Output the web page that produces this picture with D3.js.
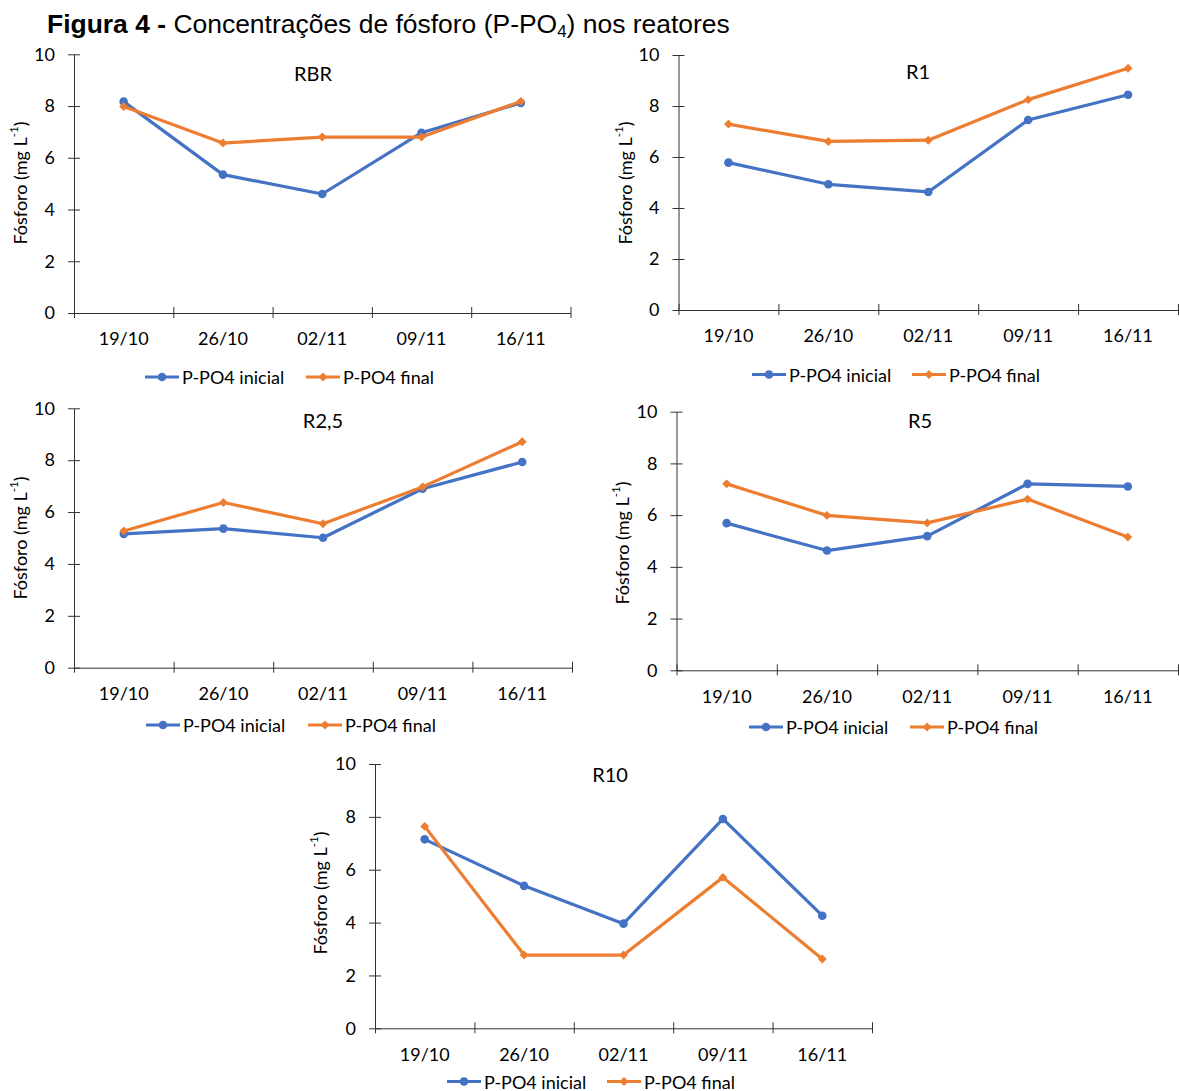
<!DOCTYPE html>
<html><head><meta charset="utf-8">
<script src="https://cdn.jsdelivr.net/npm/d3@7"></script>
<style>body{margin:0;background:#fff} svg{display:block}</style>
</head><body>
<svg id="c" width="1179" height="1091"></svg>
<script>
// ---- data ----
const dates = ["19/10","26/10","02/11","09/11","16/11"];
const yTicks = [0,2,4,6,8,10];
const seriesNames = ["P-PO4 inicial","P-PO4 final"];
const reactors = ["RBR","R1","R2,5","R5","R10"];
const inicialRBR = [8.17,5.35,4.60,6.97,8.12];
const finalRBR   = [7.98,6.57,6.80,6.80,8.18];
const inicialR1  = [5.78,4.93,4.63,7.45,8.44];
const finalR1    = [7.29,6.61,6.66,8.25,9.48];
const inicialR25 = [5.16,5.36,5.01,6.90,7.93];
const finalR25   = [5.27,6.37,5.55,6.97,8.71];
const inicialR5  = [5.69,4.63,5.19,7.21,7.11];
const finalR5    = [7.21,5.99,5.70,6.62,5.15];
const inicialR10 = [7.15,5.39,3.96,7.92,4.26];
const finalR10   = [7.64,2.77,2.77,5.71,2.62];
const panelData = [[inicialRBR,finalRBR],[inicialR1,finalR1],[inicialR25,finalR25],[inicialR5,finalR5],[inicialR10,finalR10]];

// ---- layout ----
const layout = [
  {left:74, right:570.5, top:54.3, bottom:313, tx:313, ty:81, ylx:20, yly:183, ly:377, b0:145, o0:306},
  {left:678.5, right:1178, top:55, bottom:310, tx:918, ty:79, ylx:625, yly:183, ly:374.5, b0:752, o0:912},
  {left:74, right:572, top:408.3, bottom:667.7, tx:323, ty:428, ylx:20, yly:538, ly:725, b0:146, o0:308},
  {left:676.5, right:1178, top:411.7, bottom:670.3, tx:920, ty:428, ylx:622, yly:543, ly:727, b0:749, o0:910},
  {left:375, right:872, top:764, bottom:1028.3, tx:610, ty:782, ylx:320, yly:893, ly:1081.5, b0:447, o0:607}
];
const colors = ["#4472C4","#ED7D31"];
const FONT = "Lato, 'Open Sans', sans-serif";
const AX = "#333";
const FS = "18px";

const svg = d3.select("#c");

// main title
const title = svg.append("text").attr("x",47).attr("y",33)
  .style("font-family","'Liberation Sans', Arial, sans-serif").style("font-size","25px").attr("fill","#000");
title.append("tspan").attr("font-weight","bold").text("Figura 4 - ");
title.append("tspan").text("Concentrações de fósforo (P-PO");
title.append("tspan").attr("font-size","16px").attr("dy",4).text("4");
title.append("tspan").attr("dy",-4).text(") nos reatores");
const tw = title.node().getComputedTextLength();
const fs = 25*683/tw;
title.style("font-size", fs+"px");
title.selectAll("tspan").filter((d,i)=>i===2).attr("font-size",(fs*0.64)+"px");

const diamond = d3.symbol().type(d3.symbolSquare).size(40);

function drawPanel(name, data, L){
  const g = svg.append("g").style("font-family",FONT);
  const x = d3.scaleBand().domain(dates).range([L.left, L.right]);
  const xb = d3.scaleLinear().domain([0,dates.length]).range([L.left, L.right]);
  const y = d3.scaleLinear().domain([0,10]).range([L.bottom, L.top]);

  const ya = g.append("g").attr("transform",`translate(${L.left},0)`)
    .call(d3.axisLeft(y).tickValues(yTicks).tickSizeOuter(0).tickSizeInner(6).tickPadding(13));
  ya.select(".domain").attr("stroke",AX);
  ya.selectAll(".tick line").attr("stroke",AX).attr("x1",6).attr("x2",-6);
  ya.selectAll(".tick text").attr("fill","#000").style("font-size",FS).style("font-family",FONT);

  const xa = g.append("g").attr("transform",`translate(0,${L.bottom})`)
    .call(d3.axisBottom(xb).tickValues(d3.range(dates.length+1)).tickFormat("").tickSizeOuter(0).tickSizeInner(5));
  xa.select(".domain").attr("stroke",AX);
  xa.selectAll(".tick line").attr("stroke",AX).attr("y1",-6).attr("y2",5);
  const xl = g.append("g").attr("transform",`translate(0,${L.bottom})`)
    .call(d3.axisBottom(x).tickSize(0).tickPadding(0));
  xl.select(".domain").remove();
  xl.selectAll(".tick text").attr("fill","#000").attr("y",26).attr("dy","0.35em")
    .style("font-size",FS).style("font-family",FONT);

  g.append("text").attr("x",L.tx).attr("y",L.ty).attr("text-anchor","middle")
    .style("font-size","20px").attr("fill","#000").text(name);

  const yl = g.append("text").attr("transform",`translate(${L.ylx},${L.yly}) rotate(-90)`)
    .attr("text-anchor","middle").attr("dominant-baseline","central")
    .style("font-size",FS).attr("fill","#000");
  yl.append("tspan").text("Fósforo (mg L");
  yl.append("tspan").attr("font-size","11.5px").attr("dy",-7).text("-1");
  yl.append("tspan").attr("dy",7).text(")");

  const cx = (i)=>x(dates[i])+x.bandwidth()/2;
  const line = d3.line().x((d,i)=>cx(i)).y(d=>y(d));
  data.forEach((vals,s)=>{
    g.append("path").datum(vals).attr("d",line).attr("fill","none")
      .attr("stroke",colors[s]).attr("stroke-width",3.2).attr("stroke-linejoin","round").attr("stroke-linecap","round");
    const mk = g.append("g");
    if(s===0){
      mk.selectAll("circle").data(vals).join("circle").attr("cx",(d,i)=>cx(i)).attr("cy",d=>y(d)).attr("r",4.3).attr("fill",colors[0]);
    } else {
      mk.selectAll("path").data(vals).join("path").attr("d",diamond)
        .attr("transform",(d,i)=>`translate(${cx(i)},${y(d)}) rotate(45)`).attr("fill",colors[1]);
    }
  });

  const starts = [L.b0, L.o0];
  seriesNames.forEach((nm,s)=>{
    const lx = starts[s], len = 34;
    g.append("line").attr("x1",lx).attr("x2",lx+len).attr("y1",L.ly).attr("y2",L.ly)
      .attr("stroke",colors[s]).attr("stroke-width",3.2);
    if(s===0) g.append("circle").attr("cx",lx+len/2).attr("cy",L.ly).attr("r",4.3).attr("fill",colors[0]);
    else g.append("path").attr("d",diamond).attr("transform",`translate(${lx+len/2},${L.ly}) rotate(45)`).attr("fill",colors[1]);
    g.append("text").attr("x",lx+len+3).attr("y",L.ly).attr("dominant-baseline","central")
      .style("font-size",FS).attr("fill","#000").text(nm);
  });
}

reactors.forEach((r,i)=>drawPanel(r, panelData[i], layout[i]));
</script>
</body></html>
